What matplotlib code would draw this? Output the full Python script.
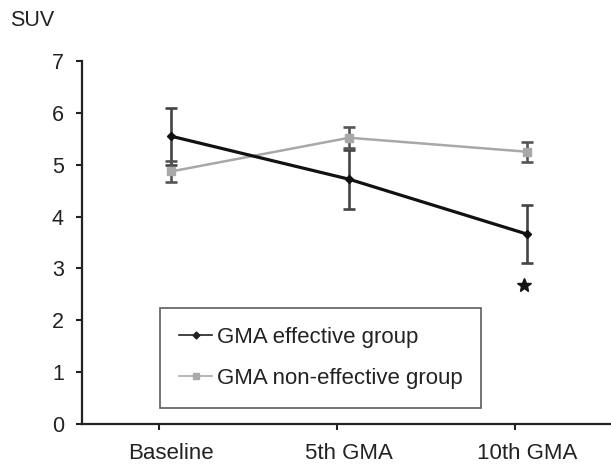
import matplotlib
matplotlib.use('Agg')
import matplotlib.pyplot as plt
from matplotlib.lines import Line2D

# data
categories = ['Baseline', '5th GMA', '10th GMA']
effective_mean = [5.55, 4.72, 3.66]
effective_err = [0.55, 0.57, 0.56]
noneffective_mean = [4.87, 5.52, 5.25]
noneffective_err = [0.21, 0.20, 0.19]
star_x = 1.98
star_y = 2.68

plt.rcParams['font.family'] = ['Liberation Sans', 'DejaVu Sans']

fig = plt.figure(figsize=(6.11, 4.66), dpi=100)
ax = fig.add_axes([82 / 611, 1 - 424 / 466, 529 / 611, 363 / 466])

x = list(range(len(categories)))

# error bars
ax.errorbar(x, effective_mean, yerr=effective_err, fmt='none', ecolor='#444444',
            elinewidth=1.9, capsize=4, capthick=1.9, zorder=2)
ax.errorbar(x, noneffective_mean, yerr=noneffective_err, fmt='none', ecolor='#555555',
            elinewidth=1.9, capsize=4, capthick=1.9, zorder=2)

# lines
ax.plot(x, effective_mean, color='#111111', linewidth=2.3, marker='D', markersize=4.5, zorder=4)
ax.plot(x, noneffective_mean, color='#a8a8a8', linewidth=1.8, marker='s', markersize=6, zorder=3)

# significance mark
ax.plot([star_x], [star_y], marker='*', markersize=10, color='#151515', linestyle='none')

ax.set_xlim(-0.5, 2.47)
ax.set_ylim(0, 7)
ax.set_yticks(range(0, 8))
ax.set_xticks(x)
ax.set_xticklabels(categories)
ax.set_xticks([v - 0.067 for v in x], minor=True)

ax.spines['top'].set_visible(False)
ax.spines['right'].set_visible(False)
for s in ('left', 'bottom'):
    ax.spines[s].set_linewidth(1.6)
    ax.spines[s].set_color('#222222')

ax.tick_params(axis='y', direction='out', length=4, width=1.5, pad=9,
               labelsize=15.5, colors='#222222')
ax.tick_params(axis='x', which='major', length=0, pad=14, labelsize=16, colors='#222222')
ax.tick_params(axis='x', which='minor', direction='out', length=4, width=1.5,
               colors='#222222')

fig.text(10 / 611, 1 - 21 / 466, 'SUV', fontsize=15.5, va='center', ha='left', color='#222222')

handles = [
    Line2D([], [], color='#222222', linewidth=1.2, marker='D', markersize=3.5),
    Line2D([], [], color='#aaaaaa', linewidth=1.2, marker='s', markersize=4.5),
]
labels = ['GMA effective group', 'GMA non-effective group']
leg = ax.legend(handles, labels, loc='upper left', bbox_to_anchor=(160 / 611, 1 - 308 / 466),
                bbox_transform=fig.transFigure, borderaxespad=0, fontsize=16,
                frameon=True, fancybox=False, handlelength=1.5, handletextpad=0.2,
                labelspacing=0.9, borderpad=0.85)
for t in leg.get_texts():
    t.set_color('#222222')
leg.get_frame().set_edgecolor('#333333')
leg.get_frame().set_linewidth(1.2)

fig.savefig('out.png', dpi=100)
